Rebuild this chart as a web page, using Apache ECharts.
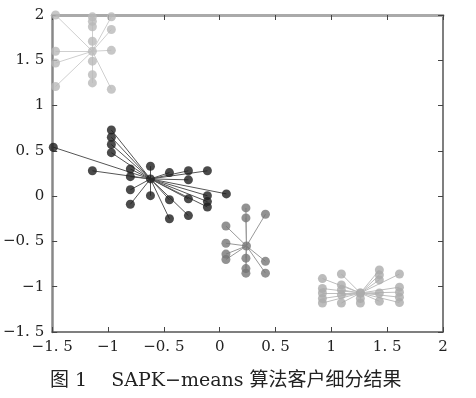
<!DOCTYPE html>
<html>
<head>
<meta charset="utf-8">
<script src="https://cdn.jsdelivr.net/npm/echarts@6/dist/echarts.min.js"></script>
<style>
  html, body { margin: 0; padding: 0; background: #fff; }
  #chart { width: 476px; height: 398px; }
</style>
</head>
<body>
<div id="chart"></div>
<script>
// cluster centres
const centers = [
  [-1.14, 1.60],
  [-0.62, 0.19],
  [0.24, -0.55],
  [1.26, -1.07]
]

// cluster members, [x, y]
const cluster1 = [
  [-1.47, 2.0], [-1.14, 1.98], [-1.14, 1.93], [-1.14, 1.87], [-0.97, 1.98],
  [-0.97, 1.84], [-1.14, 1.71], [-1.47, 1.60], [-0.97, 1.61], [-1.47, 1.47],
  [-1.14, 1.49], [-1.14, 1.34], [-1.14, 1.25], [-1.47, 1.21], [-0.97, 1.18]
]
const cluster2 = [
  [-1.49, 0.54], [-0.97, 0.73], [-0.97, 0.65], [-0.97, 0.57], [-0.97, 0.48],
  [-1.14, 0.28], [-0.80, 0.30], [-0.80, 0.215], [-0.62, 0.33], [-0.45, 0.26],
  [-0.28, 0.28], [-0.28, 0.18], [-0.11, 0.28], [-0.80, 0.07], [-0.62, 0.005],
  [-0.80, -0.09], [-0.45, -0.04], [-0.28, -0.03], [-0.11, 0.005], [-0.11, -0.06],
  [-0.11, -0.12], [0.06, 0.025], [-0.45, -0.25], [-0.28, -0.215]
]
const cluster3 = [
  [0.235, -0.13], [0.235, -0.24], [0.41, -0.20], [0.056, -0.33], [0.056, -0.52],
  [0.056, -0.64], [0.056, -0.70], [0.235, -0.685], [0.235, -0.80], [0.235, -0.85],
  [0.41, -0.72], [0.41, -0.85]
]
const cluster4 = [
  [0.92, -0.91], [0.92, -1.02], [0.92, -1.07], [0.92, -1.13], [0.92, -1.18],
  [1.09, -0.86], [1.09, -0.98], [1.09, -1.035], [1.09, -1.09], [1.09, -1.18],
  [1.26, -1.07], [1.26, -1.13], [1.26, -1.18],
  [1.43, -0.815], [1.43, -0.87], [1.43, -0.925], [1.43, -1.07], [1.43, -1.16],
  [1.61, -0.86], [1.61, -1.005], [1.61, -1.06], [1.61, -1.115], [1.61, -1.175]
]

const clusters = [cluster1, cluster2, cluster3, cluster4]
const pointColors = ['#b9b9b9', '#1e1e1e', '#777', '#ababab']
const lineColors = ['#cfcfcf', '#555', '#999', '#bdbdbd']

const font = '"DejaVu Serif", "Liberation Serif", serif'
const fmt = v => String(v).replace('-', '−').replace('.', '. ')

let series = []
clusters.forEach((pts, i) => {
  // spokes from centre to each member
  series.push({
    type: 'lines',
    coordinateSystem: 'cartesian2d',
    silent: true,
    lineStyle: { color: lineColors[i], width: 1, opacity: 1 },
    data: pts.map(p => ({ coords: [centers[i], p] })),
    z: 2
  })
  series.push({
    type: 'scatter',
    symbol: 'circle',
    symbolSize: 9,
    itemStyle: { color: pointColors[i] },
    data: pts.concat([centers[i]]),
    z: 3
  })
})

const axisLine = { show: true, onZero: false, lineStyle: { color: '#555', width: 1.5 } }
const axisTick = { show: true, inside: true, length: 5, lineStyle: { color: '#444' } }

let chart = echarts.init(document.getElementById('chart'))
chart.setOption({
  animation: false,
  grid: { left: 52, right: 33, top: 15, bottom: 66 },
  xAxis: [
    {
      type: 'value', min: -1.5, max: 2, interval: 0.5, position: 'bottom',
      axisLine: axisLine, axisTick: axisTick, splitLine: { show: false },
      axisLabel: { formatter: fmt, color: '#222', fontFamily: font, fontSize: 15, margin: 8 }
    },
    {
      type: 'value', min: -1.5, max: 2, interval: 0.5, position: 'top',
      axisLine: { show: true, onZero: false, lineStyle: { color: '#aaa', width: 3 } },
      axisTick: axisTick, axisLabel: { show: false }, splitLine: { show: false }
    }
  ],
  yAxis: [
    {
      type: 'value', min: -1.5, max: 2, interval: 0.5, position: 'left',
      axisLine: { show: true, onZero: false, lineStyle: { color: '#888', width: 2.5 } },
      axisTick: axisTick, splitLine: { show: false },
      axisLabel: { formatter: fmt, color: '#222', fontFamily: font, fontSize: 15, margin: 8 }
    },
    {
      type: 'value', min: -1.5, max: 2, interval: 0.5, position: 'right',
      axisLine: axisLine, axisTick: axisTick, axisLabel: { show: false }, splitLine: { show: false }
    }
  ],
  title: {
    text: '图 1    SAPK−means 算法客户细分结果',
    left: 45, top: 367,
    textStyle: { fontFamily: font + ', "Noto Sans CJK SC"', fontWeight: 'normal', fontSize: 19, color: '#222' }
  },
  series: series
})
</script>
</body>
</html>
